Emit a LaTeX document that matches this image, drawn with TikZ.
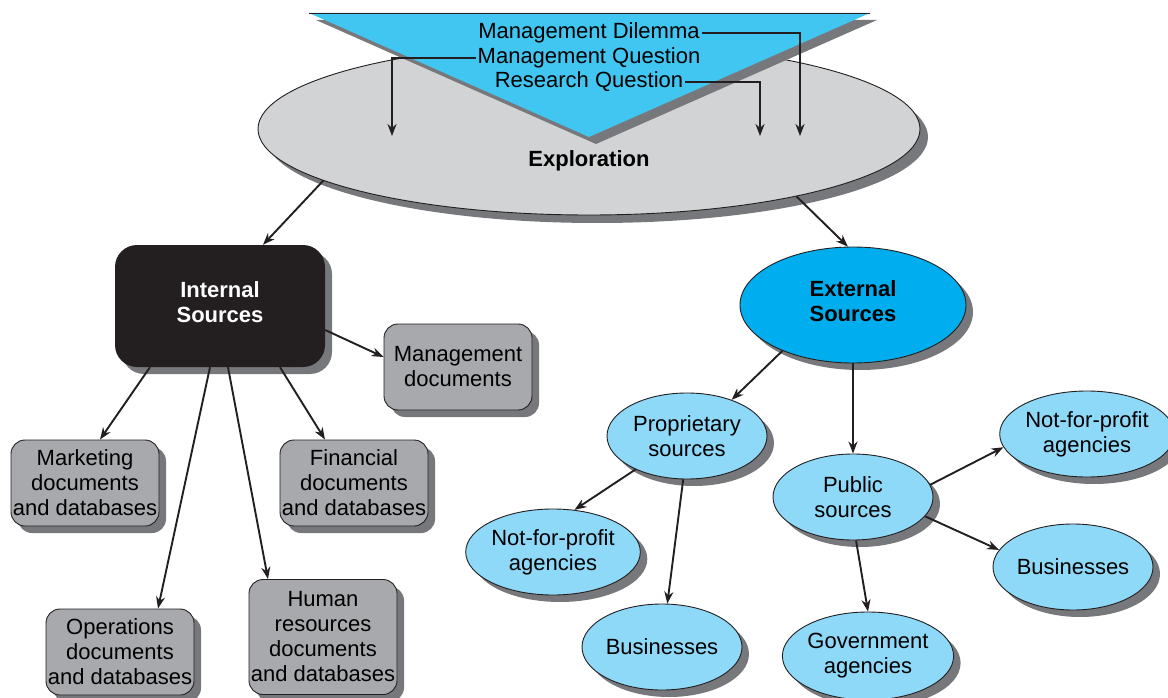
\documentclass[tikz,border=0pt]{standalone}
\usepackage{fontspec}
\setmainfont{Liberation Sans}
\usetikzlibrary{shapes.geometric,shadows,arrows.meta}
\definecolor{triblue}{HTML}{41C6F2}
\definecolor{extblue}{HTML}{00AEEF}
\definecolor{lightblue}{HTML}{8ED8F8}
\definecolor{boxgray}{HTML}{A7A9AC}
\definecolor{explgray}{HTML}{D1D3D4}
\definecolor{shadowgray}{HTML}{77787B}
\definecolor{inkblack}{HTML}{231F20}
\begin{document}
\begin{tikzpicture}[x=1pt, y=-1pt,
		nodefont/.style={font=\fontsize{22}{25}\selectfont, align=center, inner sep=2pt},
		boldfont/.style={font=\fontsize{22}{25}\selectfont\bfseries, align=center, inner sep=2pt},
		castshadow/.style={drop shadow={shadow xshift=7pt, shadow yshift=-7pt, fill=shadowgray, opacity=1}},
		docbox/.style={nodefont, draw=inkblack, line width=0.9pt, fill=boxgray, rounded corners=14pt, minimum width=148pt, minimum height=86pt, inner sep=0pt, castshadow},
		srcell/.style={nodefont, ellipse, draw=inkblack, line width=0.9pt, fill=lightblue, minimum width=160pt, minimum height=86pt, inner sep=0pt, castshadow},
		arr/.style={-{Stealth[length=12pt, width=9pt]}, line width=1.9pt, draw=inkblack}
	]
	\useasboundingbox (0, 0) rectangle (1168, 698);

	% 探索椭圆和上面的三角形
	\node[ellipse, draw=inkblack, line width=0.9pt, fill=explgray, minimum width=662pt, minimum height=172pt, inner sep=0pt, drop shadow={shadow xshift=8pt, shadow yshift=-8pt, fill=shadowgray, opacity=1}] (exp) at (589, 129) {};
	\fill[triblue, drop shadow={shadow xshift=7pt, shadow yshift=-7pt, fill=shadowgray, opacity=1}] (309, 13) -- (870, 13) -- (589, 137) -- cycle;
	\draw[inkblack, line width=0.6pt] (309, 13) -- (870, 13);
	\node[nodefont] (dil) at (589, 33) {Management Dilemma};
	\node[nodefont] (mq) at (589, 58) {Management Question};
	\node[nodefont] (rq) at (589, 82) {Research Question};
	\node[boldfont] (explbl) at (589, 161) {Exploration};
	\coordinate (dilend) at (800, 136);
	\coordinate (mqend) at (392, 136);
	\coordinate (rqend) at (760, 136);
	\draw[arr] (dil.east) -| (dilend);
	\draw[arr] (mq.west) -| (mqend);
	\draw[arr] (rq.east) -| (rqend);

	% 内部来源
	\node[fill=inkblack, rounded corners=22pt, minimum width=210pt, minimum height=122pt, castshadow] (int) at (220, 306) {};
	\node[boldfont, text=white] (intlbl) at (220, 302) {Internal\\Sources};
	\node[docbox] (mgt) at (458, 367) {Management\\documents};
	\node[docbox] (mkt) at (85, 483) {Marketing\\documents\\and databases};
	\node[docbox] (fin) at (354, 483) {Financial\\documents\\and databases};
	\node[docbox] (ops) at (120, 652) {Operations\\documents\\and databases};
	\node[docbox, minimum height=115pt] (hum) at (323, 637) {Human\\resources\\documents\\and databases};

	% 外部来源
	\node[ellipse, draw=inkblack, line width=0.9pt, fill=extblue, minimum width=226pt, minimum height=116pt, inner sep=0pt, castshadow] (ext) at (853, 305) {};
	\node[boldfont] (extlbl) at (853, 301) {External\\Sources};
	\node[srcell] (prop) at (687, 436) {Proprietary\\sources};
	\node[srcell] (pub) at (853, 497) {Public\\sources};
	\node[srcell] (nfpl) at (553, 552) {Not-for-profit\\agencies};
	\node[srcell] (busl) at (662, 647) {Businesses};
	\node[srcell, minimum width=156pt, minimum height=88pt] (gov) at (868, 656) {Government\\agencies};
	\node[srcell] (nfpr) at (1087, 434) {Not-for-profit\\agencies};
	\node[srcell] (busr) at (1073, 567) {Businesses};

	% 箭头
	\draw[arr] (exp.191) -- ([xshift=43pt]int.north);
	\draw[arr] (exp.342) -- (ext.95);
	\draw[arr] ([yshift=-24pt]int.east) -- ([yshift=10pt]mgt.west);
	\draw[arr] ([xshift=-70pt]int.south) -- ([xshift=15pt]mkt.north);
	\draw[arr] ([xshift=-10pt]int.south) -- ([xshift=38pt]ops.north);
	\draw[arr] ([xshift=8pt]int.south) -- ([xshift=-55pt]hum.north);
	\draw[arr] ([xshift=60pt]int.south) -- ([xshift=-29pt]fin.north);
	\draw[arr] (ext.213) -- (prop.39);
	\draw[arr] (ext.south) -- (pub.north);
	\draw[arr] (prop.213) -- (nfpl.63);
	\draw[arr] (prop.265) -- (busl.83);
	\draw[arr] (pub.9) -- (nfpr.189);
	\draw[arr] (pub.345) -- (busr.167);
	\draw[arr] (pub.274) -- (gov.north);
\end{tikzpicture}
\end{document}
